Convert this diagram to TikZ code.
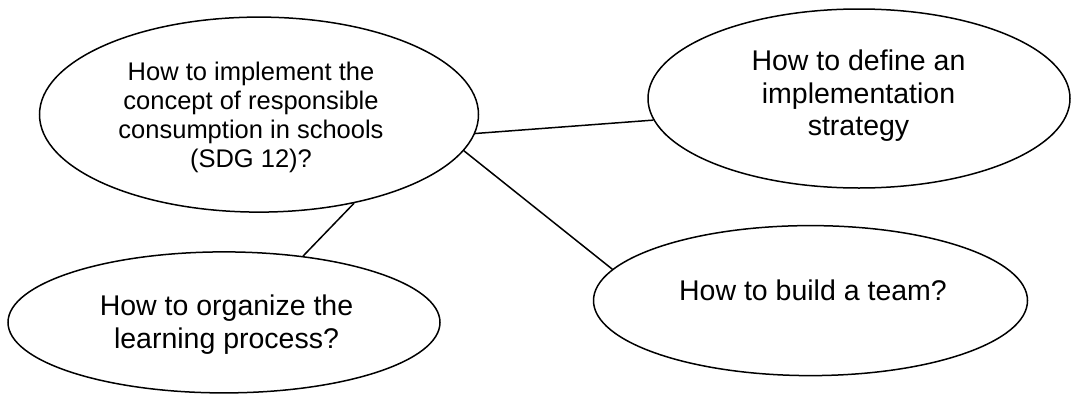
\documentclass[tikz,border=0pt]{standalone}
\usepackage{fontspec}
\setmainfont{Liberation Sans}
\usetikzlibrary{shapes.geometric}

\tikzset{
  bubble/.style={draw=black, line width=1.5pt, shape=ellipse, inner sep=0pt},
  caption/.style={align=center, anchor=base, inner sep=0pt, text=black},
  link/.style={draw=black, line width=1.5pt},
}

\begin{document}
\begin{tikzpicture}[x=1pt, y=-1pt]
  \useasboundingbox (0,0) rectangle (1071,394);

  % the four question bubbles
  \node[bubble, minimum width=439pt, minimum height=195pt] (main)     at (259,114.6) {};
  \node[bubble, minimum width=422pt, minimum height=179pt] (strategy) at (859,98.5) {};
  \node[bubble, minimum width=434pt, minimum height=150pt] (team)     at (810.5,300.6) {};
  \node[bubble, minimum width=432pt, minimum height=141pt] (learning) at (224,322.4) {};

  % their questions (each placed by the baseline of its last line)
  \node[caption, font=\fontsize{25.5}{29}\selectfont] (mainText) at (251,167)
    {How to implement the\\concept of responsible\\consumption in schools\\(SDG 12)?};
  \node[caption, font=\fontsize{28.5}{32.5}\selectfont] (strategyText) at (858.5,135.5)
    {How to define an\\implementation\\strategy};
  \node[caption, font=\fontsize{28.5}{33}\selectfont] (teamText) at (813,300)
    {How to build a team?};
  \node[caption, font=\fontsize{28.5}{33}\selectfont] (learningText) at (226.5,348)
    {How to organize the\\learning process?};

  % connectors from the central question
  \draw[link] (main.-5.6)  -- (strategy.186.7);
  \draw[link] (main.-10.9) -- (team.171.7);
  \draw[link] (main.-43)   -- (learning.40.5);
\end{tikzpicture}
\end{document}
